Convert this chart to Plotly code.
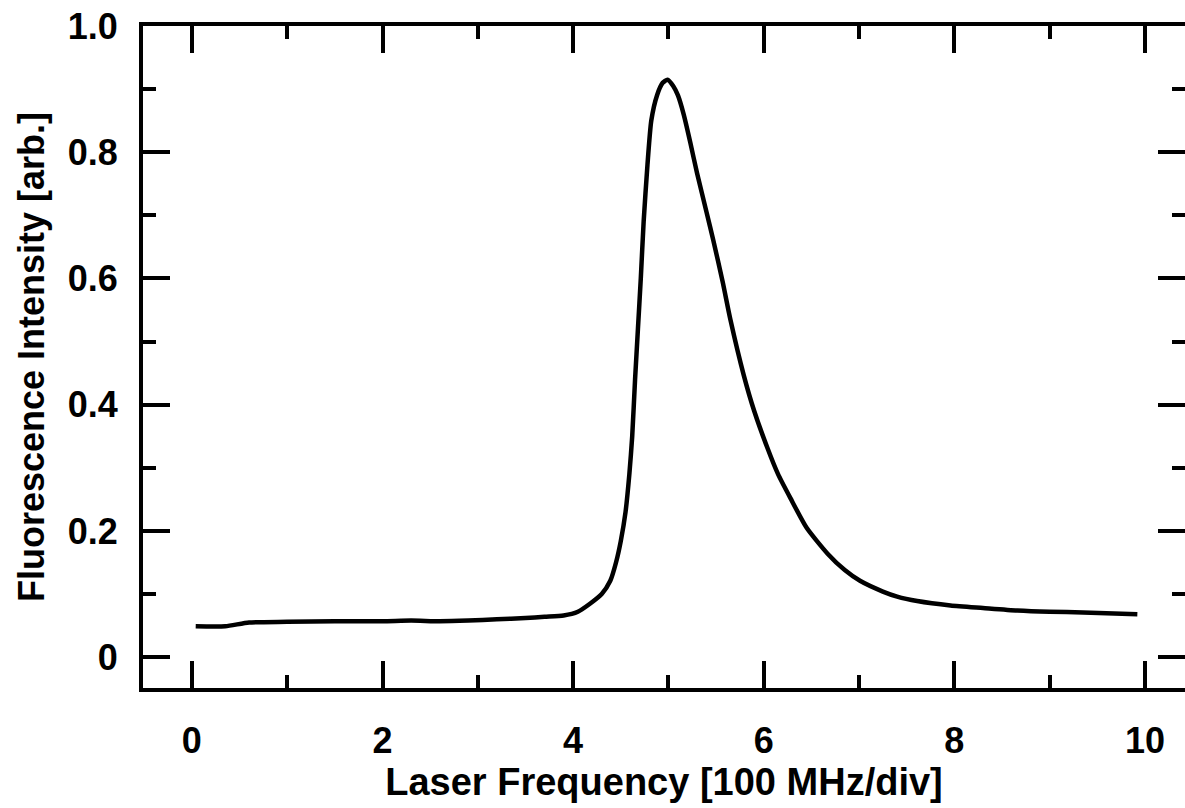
import plotly.graph_objects as go

# Laser frequency [100 MHz/div]
freq = [0.04, 0.35, 0.6, 1.0, 1.5, 2.0, 2.3, 2.6, 2.9, 3.2, 3.5, 3.7, 3.9, 4.05,
        4.18, 4.30, 4.39, 4.45, 4.50, 4.55, 4.59, 4.62, 4.65, 4.68, 4.71, 4.74,
        4.78, 4.82, 4.88, 4.94, 4.99, 5.05, 5.10, 5.16, 5.23, 5.30, 5.40, 5.47,
        5.57, 5.65, 5.79, 5.90, 6.04, 6.15, 6.28, 6.45, 6.67, 6.85, 7.01, 7.25,
        7.40, 7.61, 7.96, 8.3, 8.66, 9.0, 9.35, 9.92]
# Fluorescence intensity [arb.]
intensity = [0.049, 0.049, 0.055, 0.056, 0.057, 0.057, 0.058, 0.057, 0.058, 0.060,
             0.062, 0.064, 0.066, 0.072, 0.085, 0.10, 0.121, 0.15, 0.184, 0.23,
             0.29, 0.35, 0.44, 0.52, 0.60, 0.69, 0.78, 0.85, 0.89, 0.91, 0.915,
             0.905, 0.89, 0.86, 0.815, 0.767, 0.705, 0.661, 0.594, 0.535, 0.447,
             0.39, 0.331, 0.29, 0.252, 0.205, 0.164, 0.138, 0.121, 0.104, 0.096,
             0.089, 0.082, 0.078, 0.074, 0.072, 0.071, 0.068]

x_ticks = [0, 2, 4, 6, 8, 10]
x_minor = [1, 3, 5, 7, 9]
y_ticks = [0, 0.2, 0.4, 0.6, 0.8, 1.0]
y_ticktext = ["0", "0.2", "0.4", "0.6", "0.8", "1.0"]
y_minor = [0.1, 0.3, 0.5, 0.7, 0.9]

FONT = "Liberation Sans, Arial, sans-serif"
X_RANGE = [-0.513, 10.42]
Y_RANGE = [-0.0488, 1.0]

fig = go.Figure()
fig.add_trace(go.Scatter(x=freq, y=intensity, mode="lines",
                         line=dict(color="black", width=4.5, shape="spline", smoothing=0.6),
                         showlegend=False, hoverinfo="skip"))
# invisible trace to activate the right-hand tick axis
fig.add_trace(go.Scatter(x=[freq[0]], y=[intensity[0]], yaxis="y2", mode="lines",
                         line=dict(width=0), showlegend=False, hoverinfo="skip"))

fig.update_layout(
    width=1185, height=808,
    margin=dict(l=143, r=0, t=26, b=120),
    paper_bgcolor="white", plot_bgcolor="white",
    font=dict(family=FONT, color="black"),
    xaxis=dict(
        showgrid=False, zeroline=False, showline=True, linecolor="black", linewidth=4,
        mirror="ticks", ticks="inside", tickcolor="black", tickwidth=4,
        range=X_RANGE, tickvals=x_ticks, ticklen=27,
        minor=dict(tickvals=x_minor, ticks="inside", ticklen=13, tickwidth=4, tickcolor="black"),
        tickfont=dict(size=36, weight="bold", family=FONT),
        ticklabelstandoff=18,
        title=dict(text="Laser Frequency [100 MHz/div]",
                   font=dict(size=38, weight="bold", family=FONT), standoff=6),
    ),
    yaxis=dict(
        showgrid=False, zeroline=False, showline=True, linecolor="black", linewidth=4,
        mirror=False, ticks="inside", tickcolor="black", tickwidth=4,
        range=Y_RANGE, tickvals=y_ticks, ticktext=y_ticktext, ticklen=27,
        minor=dict(tickvals=y_minor, ticks="inside", ticklen=13, tickwidth=4, tickcolor="black"),
        tickfont=dict(size=36, weight="bold", family=FONT),
        ticklabelstandoff=14,
        title=dict(text="Fluorescence Intensity [arb.]",
                   font=dict(size=36, weight="bold", family=FONT), standoff=13),
    ),
    yaxis2=dict(
        overlaying="y", side="right", showgrid=False, zeroline=False, showline=False,
        ticks="inside", tickcolor="black", tickwidth=4, ticklen=27,
        range=Y_RANGE, tickvals=y_ticks, showticklabels=False,
        minor=dict(tickvals=y_minor, ticks="inside", ticklen=13, tickwidth=4, tickcolor="black"),
    ),
)

fig.write_html("out.html")
